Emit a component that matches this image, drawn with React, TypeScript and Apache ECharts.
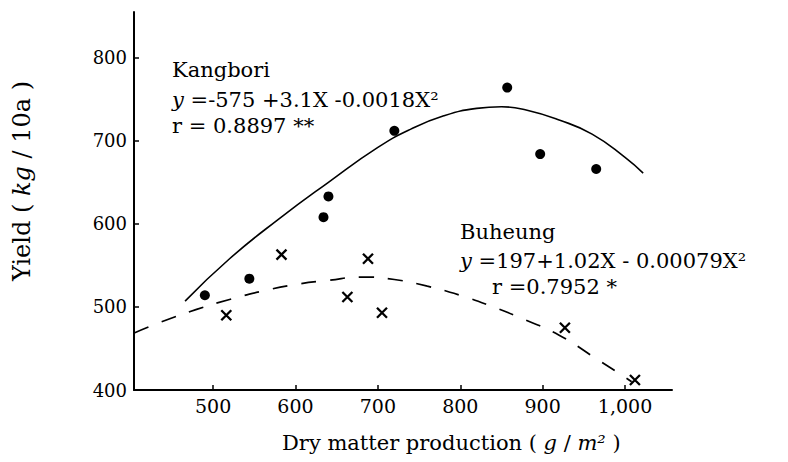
import React, { useEffect, useRef } from "react";
import * as echarts from "echarts";

// Axis ranges and ticks
const xMin = 404;
const xMax = 1057;
const yMin = 400;
const yMax = 855;
const xTicks = [500, 600, 700, 800, 900, 1000];
const xTickLabels = ["500", "600", "700", "800", "900", "1,000"];
const yTicks = [400, 500, 600, 700, 800];
const yTickLabels = ["400", "500", "600", "700", "800"];

// Observed points (dry matter production, yield)
const kangboriPoints = [
  [490, 514], [544, 534], [634, 608], [640, 633],
  [720, 712], [857, 764], [897, 684], [965, 666],
];
const buheungPoints = [
  [516, 490], [583, 563], [663, 512], [688, 558],
  [705, 493], [927, 475], [1012, 412],
];

// Regression curves
const kangboriCurve = [
  [466, 507], [520, 558], [580, 606], [640, 650], [700, 692],
  [740, 714], [780, 730], [820, 739], [850, 741], [880, 737],
  [920, 725], [960, 708], [1000, 680], [1022, 661],
];
const buheungCurve = [
  [405, 469], [440, 483], [480, 497], [520, 509], [560, 519],
  [600, 527], [640, 532], [680, 536], [720, 533], [760, 525],
  [800, 514], [840, 500], [880, 484], [920, 466], [960, 441],
  [1008, 410],
];

const SERIF = "DejaVu Serif";

export default function App() {
  const ref = useRef<HTMLDivElement>(null);
  useEffect(() => {
    if (!ref.current) return;
    const chart = echarts.init(ref.current, undefined, { renderer: "svg" });
    const rich = (size: number) => ({
      i: { fontStyle: "italic", fontFamily: SERIF, fontSize: size, fill: "#000" },
    });
    const txt = (text: string, x: number, y: number, size = 21, extra: any = {}) => ({
      type: "text",
      x,
      y,
      style: {
        text,
        fill: "#000",
        fontFamily: SERIF,
        fontSize: size,
        textAlign: "left",
        textVerticalAlign: "middle",
        rich: rich(size),
        ...extra,
      },
    });
    chart.setOption({
      animation: false,
      backgroundColor: "#ffffff",
      grid: { left: 134, top: 12, right: 116, bottom: 72 },
      xAxis: {
        type: "value",
        min: xMin,
        max: xMax,
        axisLine: { show: true, lineStyle: { color: "#000", width: 2 } },
        axisTick: {
          show: true,
          inside: true,
          length: 5,
          customValues: xTicks,
          lineStyle: { color: "#000", width: 1.5 },
        },
        axisLabel: {
          customValues: xTicks,
          formatter: (v: number) => xTickLabels[xTicks.indexOf(v)] ?? String(v),
          color: "#000",
          fontFamily: SERIF,
          fontSize: 19,
          margin: 6,
        },
        splitLine: { show: false },
      },
      yAxis: {
        type: "value",
        min: yMin,
        max: yMax,
        axisLine: { show: true, lineStyle: { color: "#000", width: 2 } },
        axisTick: {
          show: true,
          inside: true,
          length: 5,
          customValues: yTicks,
          lineStyle: { color: "#000", width: 1.5 },
        },
        axisLabel: {
          customValues: yTicks,
          formatter: (v: number) => yTickLabels[yTicks.indexOf(v)] ?? String(v),
          color: "#000",
          fontFamily: SERIF,
          fontSize: 18,
          margin: 7,
        },
        splitLine: { show: false },
      },
      series: [
        {
          name: "Kangbori fit",
          type: "line",
          data: kangboriCurve,
          smooth: 0.5,
          showSymbol: false,
          lineStyle: { color: "#000", width: 1.6 },
        },
        {
          name: "Buheung fit",
          type: "line",
          data: buheungCurve,
          smooth: 0.5,
          showSymbol: false,
          lineStyle: { color: "#000", width: 1.7, type: [15, 14] },
        },
        {
          name: "Kangbori",
          type: "scatter",
          data: kangboriPoints,
          symbol: "circle",
          symbolSize: 10,
          itemStyle: { color: "#000", opacity: 1 },
        },
        {
          name: "Buheung",
          type: "scatter",
          data: buheungPoints,
          symbol: "path://M0 0L10 10M10 0L0 10",
          symbolSize: 10,
          itemStyle: { color: "transparent", borderColor: "#000", borderWidth: 2.3, opacity: 1 },
        },
      ],
      graphic: [
        txt("Kangbori", 172, 70),
        txt("{i|y} =-575 +3.1X -0.0018X²", 172, 100),
        txt("r = 0.8897 **", 172, 126),
        txt("Buheung", 460, 232),
        txt("{i|y} =197+1.02X - 0.00079X²", 460, 261),
        txt("r =0.7952 *", 492, 287),
        txt("Dry matter production ( {i|g} / {i|m²} )", 282, 443, 21),
        {
          type: "text",
          x: 22,
          y: 181,
          rotation: Math.PI / 2,
          style: {
            text: "Yield ( {i|kg} / 10a )",
            fill: "#000",
            fontFamily: SERIF,
            fontSize: 24,
            textAlign: "center",
            textVerticalAlign: "middle",
            rich: rich(24),
          },
        },
      ],
    });
    return () => chart.dispose();
  }, []);
  return (
    <div
      ref={ref}
      style={{ position: "fixed", left: 0, top: 0, width: 788, height: 462, background: "#fff" }}
    />
  );
}
